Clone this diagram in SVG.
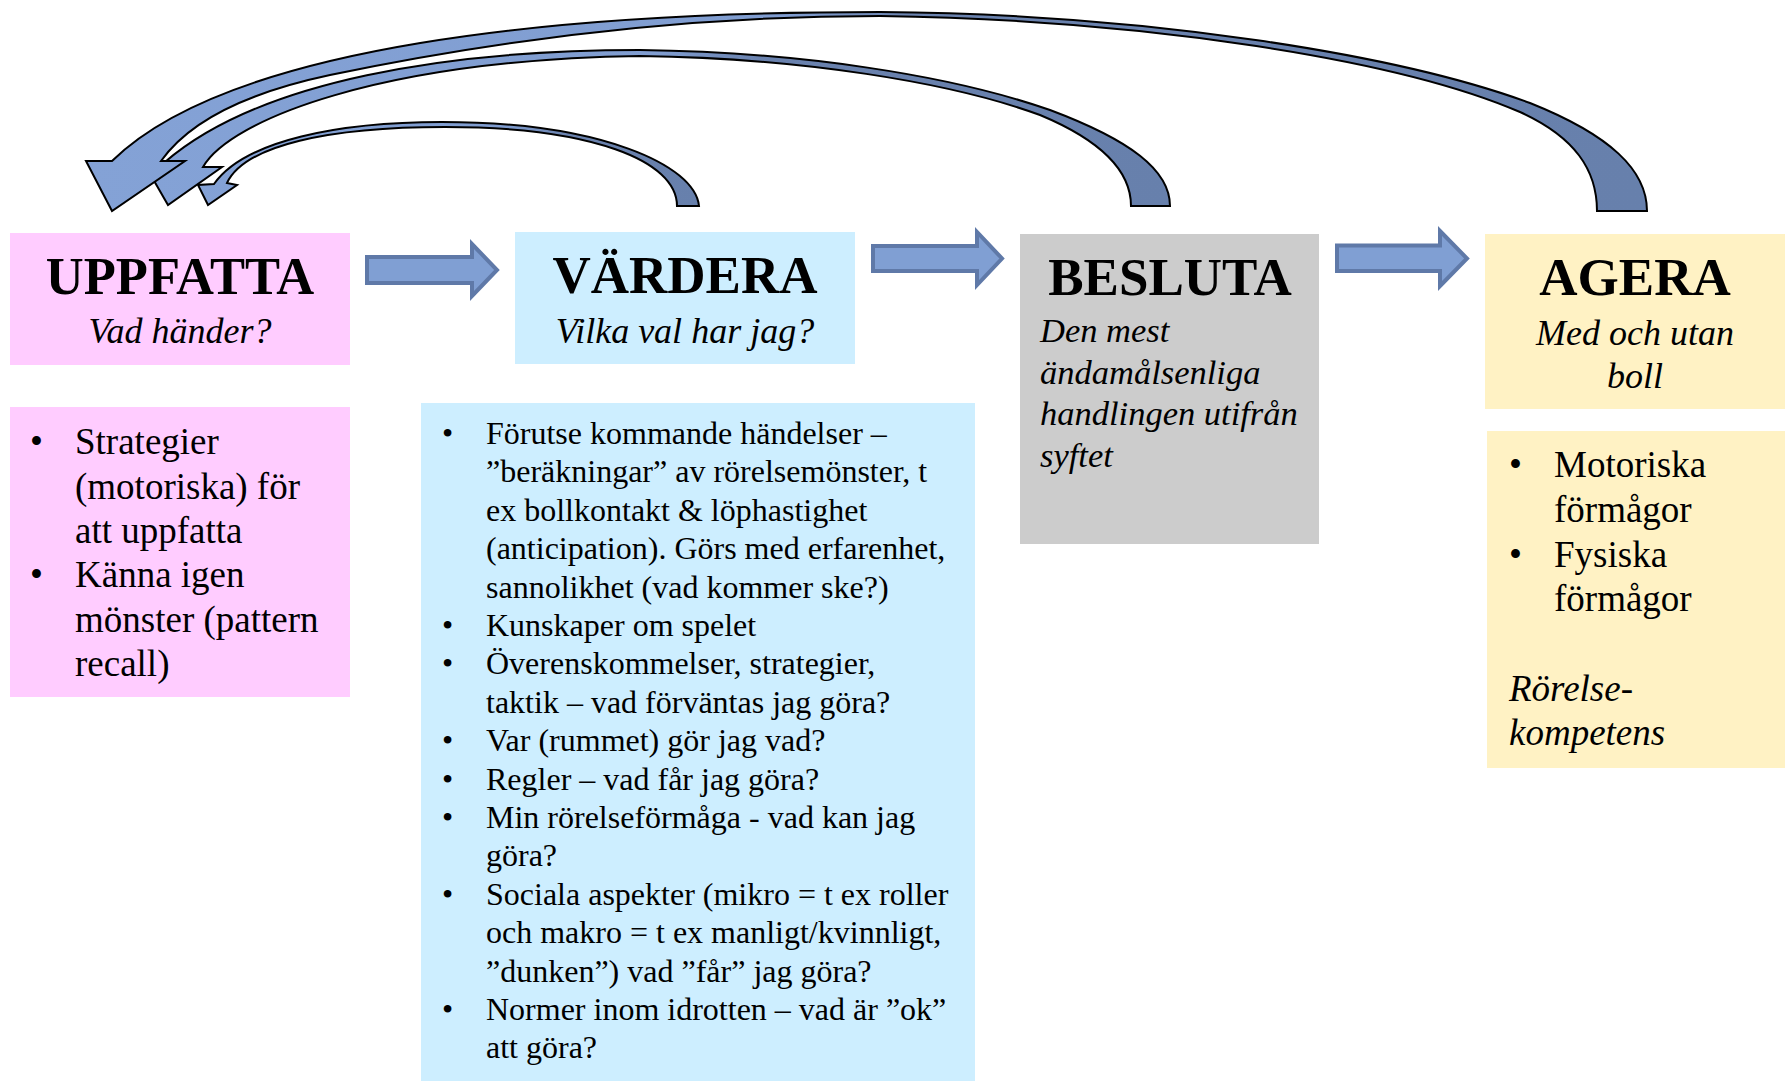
<svg xmlns="http://www.w3.org/2000/svg" width="1785" height="1081" viewBox="0 0 1785 1081">
<style>
.t{font-family:"Liberation Serif","Times New Roman",serif;fill:#000}
.title{font-weight:bold;font-size:53px;text-anchor:middle}
.sub{font-style:italic;font-size:36px}
.b37{font-size:37px}
.b32{font-size:32px}
.curve{stroke:#000;stroke-width:2;stroke-linejoin:miter}
.blk{fill:#809fd3;stroke:#5f79a8;stroke-width:4;stroke-linejoin:miter}
</style>
<defs>
<linearGradient id="gA" gradientUnits="userSpaceOnUse" x1="180" y1="0" x2="700" y2="0">
<stop offset="0" stop-color="#84a2d6"/><stop offset="0.62" stop-color="#809dd0"/><stop offset="0.75" stop-color="#6a82ae"/><stop offset="1" stop-color="#6780ac"/>
</linearGradient>
<linearGradient id="gB" gradientUnits="userSpaceOnUse" x1="140" y1="0" x2="1175" y2="0">
<stop offset="0" stop-color="#84a2d6"/><stop offset="0.5" stop-color="#809dd0"/><stop offset="0.6" stop-color="#6a82ae"/><stop offset="1" stop-color="#6780ac"/>
</linearGradient>
<linearGradient id="gC" gradientUnits="userSpaceOnUse" x1="80" y1="0" x2="1650" y2="0">
<stop offset="0" stop-color="#84a2d6"/><stop offset="0.45" stop-color="#809dd0"/><stop offset="0.53" stop-color="#6a82ae"/><stop offset="1" stop-color="#6780ac"/>
</linearGradient>
</defs>
<rect width="1785" height="1081" fill="#fff"/>

<g id="connectors">
<path class="blk" d="M367,257 H472 V244 L497,270 L472,296 V283 H367 Z"/>
<path class="blk" d="M873,246 H977 V232 L1002,258.5 L977,285 V271 H873 Z"/>
<path class="blk" d="M1337,245.5 H1440 V231 L1467,258.5 L1440,286 V271 H1337 Z"/>
<path class="curve" fill="url(#gA)" d="M699,206 C695,165 600,122 442,122 C340,122 245,140 214,184 L198,185 L208,205 L237,185 L227,183 C245,145 330,127 445,127 C590,127 677,160 677,206 Z"/>
<path class="curve" fill="url(#gB)" d="M1170,206 C1170,170 1130,140 1050,110 C950,75 800,52 640,50 C450,50 260,80 165,162 L142,160 L168,205 L222,167 L203,167 C230,120 380,60 640,56 C800,58 950,82 1040,115 C1100,140 1131,170 1131,206 Z"/>
<path class="curve" fill="url(#gC)" d="M1647,211 C1647,170 1610,135 1530,103 C1400,55 1150,14 880,12 C560,12 230,45 112,161 L86,161 L112,211 L185,161 L161,161 C190,120 250,92 330,75 C450,50 650,16 880,16 C1150,20 1400,60 1520,112 C1575,137 1597,170 1597,211 Z"/>
</g>

<g id="uppfatta">
<rect x="10" y="233" width="340" height="132" fill="#ffccff"/>
<text class="t title" x="180" y="294" style="font-size:52.5px">UPPFATTA</text>
<text class="t sub" x="180" y="343" text-anchor="middle">Vad händer?</text>
</g>
<g id="uppfatta-body">
<rect x="10" y="407" width="340" height="290" fill="#ffccff"/>
<g class="t b37">
<text x="30" y="454">•</text><text x="75" y="454">Strategier</text>
<text x="75" y="498.5">(motoriska) för</text>
<text x="75" y="543">att uppfatta</text>
<text x="30" y="587">•</text><text x="75" y="587">Känna igen</text>
<text x="75" y="631.5">mönster (pattern</text>
<text x="75" y="676">recall)</text>
</g>
</g>

<g id="vardera">
<rect x="515" y="232" width="340" height="132" fill="#cdeeff"/>
<text class="t title" x="685" y="293">VÄRDERA</text>
<text class="t sub" x="685" y="343" text-anchor="middle">Vilka val har jag?</text>
</g>
<g id="vardera-body">
<rect x="421" y="403" width="554" height="678" fill="#cdeeff"/>
<g class="t b32">
<text x="442" y="444">•</text><text x="486" y="444">Förutse kommande händelser –</text>
<text x="486" y="482.4">”beräkningar” av rörelsemönster, t</text>
<text x="486" y="520.8">ex bollkontakt &amp; löphastighet</text>
<text x="486" y="559.2">(anticipation). Görs med erfarenhet,</text>
<text x="486" y="597.6">sannolikhet (vad kommer ske?)</text>
<text x="442" y="636">•</text><text x="486" y="636">Kunskaper om spelet</text>
<text x="442" y="674.4">•</text><text x="486" y="674.4">Överenskommelser, strategier,</text>
<text x="486" y="712.8">taktik – vad förväntas jag göra?</text>
<text x="442" y="751.2">•</text><text x="486" y="751.2">Var (rummet) gör jag vad?</text>
<text x="442" y="789.6">•</text><text x="486" y="789.6">Regler – vad får jag göra?</text>
<text x="442" y="828">•</text><text x="486" y="828">Min rörelseförmåga - vad kan jag</text>
<text x="486" y="866.4">göra?</text>
<text x="442" y="904.8">•</text><text x="486" y="904.8">Sociala aspekter (mikro = t ex roller</text>
<text x="486" y="943.2">och makro = t ex manligt/kvinnligt,</text>
<text x="486" y="981.6">”dunken”) vad ”får” jag göra?</text>
<text x="442" y="1020">•</text><text x="486" y="1020">Normer inom idrotten – vad är ”ok”</text>
<text x="486" y="1058.4">att göra?</text>
</g>
</g>

<g id="besluta">
<rect x="1020" y="234" width="299" height="310" fill="#cccccc"/>
<text class="t title" x="1170" y="295">BESLUTA</text>
<g class="t sub" style="font-size:34.5px">
<text x="1040" y="342">Den mest</text>
<text x="1040" y="383.5">ändamålsenliga</text>
<text x="1040" y="425">handlingen utifrån</text>
<text x="1040" y="466.5">syftet</text>
</g>
</g>

<g id="agera">
<rect x="1485" y="234" width="300" height="175" fill="#fff2c4"/>
<text class="t title" x="1635" y="295">AGERA</text>
<text class="t sub" x="1635" y="345" text-anchor="middle">Med och utan</text>
<text class="t sub" x="1635" y="388" text-anchor="middle">boll</text>
</g>
<g id="agera-body">
<rect x="1487" y="431" width="298" height="337" fill="#fff2c4"/>
<g class="t b37">
<text x="1509" y="477">•</text><text x="1554" y="477">Motoriska</text>
<text x="1554" y="522">förmågor</text>
<text x="1509" y="566.5">•</text><text x="1554" y="566.5">Fysiska</text>
<text x="1554" y="611">förmågor</text>
<text x="1509" y="700.5" font-style="italic">Rörelse-</text>
<text x="1509" y="745" font-style="italic">kompetens</text>
</g>
</g>
</svg>
